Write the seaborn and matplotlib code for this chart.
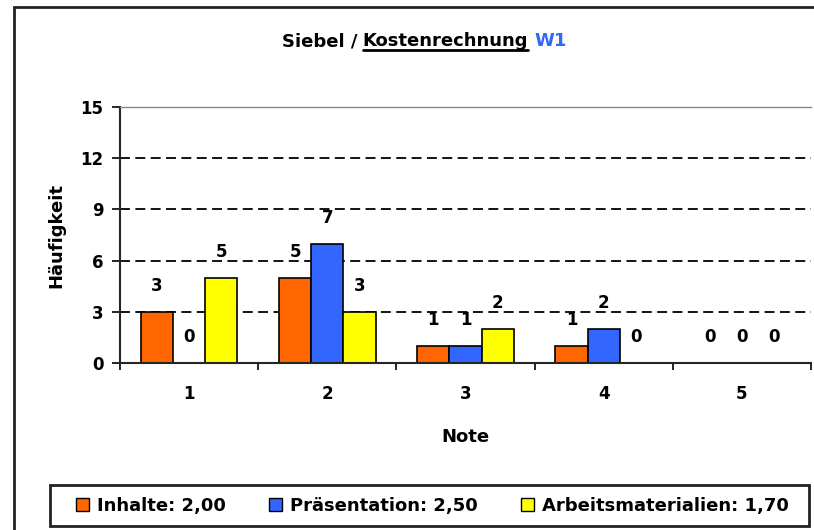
import matplotlib
matplotlib.use("Agg")
import matplotlib.pyplot as plt
import matplotlib.patches as mpatches
from matplotlib.lines import Line2D
import pandas as pd
import seaborn as sns

noten = ["1", "2", "3", "4", "5"]
inhalte = [3, 5, 1, 1, 0]
praesentation = [0, 7, 1, 2, 0]
arbeitsmaterialien = [5, 3, 2, 0, 0]
serien = ["Inhalte: 2,00", "Präsentation: 2,50", "Arbeitsmaterialien: 1,70"]
farben = ["#FF6600", "#3366FF", "#FFFF00"]

df = pd.DataFrame({
    "Note": noten * 3,
    "Anzahl": inhalte + praesentation + arbeitsmaterialien,
    "Serie": [serien[0]] * 5 + [serien[1]] * 5 + [serien[2]] * 5,
})

sns.set_style("white")
plt.rcParams["font.family"] = ["DejaVu Sans"]
plt.rcParams["font.weight"] = "bold"
for k in ["text.color", "axes.labelcolor", "xtick.color", "ytick.color"]:
    plt.rcParams[k] = "black"

W, H = 814, 530
fig = plt.figure(figsize=(W / 100, H / 100), dpi=100)
ax = fig.add_axes([120 / W, 1 - 363 / H, (811 - 120) / W, (363 - 107) / H])

sns.barplot(data=df, x="Note", y="Anzahl", hue="Serie", palette=farben, saturation=1,
            edgecolor="black", linewidth=1.2, width=0.7, ax=ax, legend=False)

for c in ax.containers:
    ax.bar_label(c, padding=12, fontsize=12, fontweight="bold")

ax.set_ylim(0, 15)
ax.set_xlim(-0.5, 4.5)
ax.set_yticks([0, 3, 6, 9, 12, 15])
ax.set_xticks([-0.5, 0.5, 1.5, 2.5, 3.5, 4.5], minor=True)
ax.tick_params(axis="x", which="major", length=0, pad=16, labelsize=12)
ax.tick_params(axis="x", which="minor", length=5, width=1.2, direction="out", bottom=True)
ax.tick_params(axis="y", length=6, width=1.2, direction="out", left=True, labelsize=12, pad=6)
for lab in ax.get_xticklabels() + ax.get_yticklabels():
    lab.set_fontweight("bold")

for v in [3, 6, 9, 12]:
    ax.axhline(v, color="black", lw=1.3, ls=(0, (5.5, 3)), zorder=0)

ax.spines["left"].set_linewidth(1.5)
ax.spines["bottom"].set_linewidth(1.5)
ax.spines["top"].set_color("#888888")
ax.spines["top"].set_linewidth(1)
ax.spines["right"].set_visible(False)

ax.set_xlabel("Note", fontsize=13, fontweight="bold", labelpad=18)
ax.set_ylabel("Häufigkeit", fontsize=13, fontweight="bold", labelpad=11)

# Titel aus drei Teilen
fig.canvas.draw()
r = fig.canvas.get_renderer()
ty = 1 - 46 / H
t1 = fig.text(282 / W, ty, "Siebel /", fontsize=13, fontweight="bold", va="baseline")
bb1 = t1.get_window_extent(r)
t2 = fig.text(bb1.x1 / W + 5 / W, ty, "Kostenrechnung", fontsize=13, fontweight="bold", va="baseline")
bb2 = t2.get_window_extent(r)
t3 = fig.text(bb2.x1 / W + 6 / W, ty, "W1", fontsize=13, fontweight="bold", va="baseline", color="#3366FF")
fig.add_artist(Line2D([bb2.x0 / W, bb2.x1 / W], [1 - 50 / H, 1 - 50 / H], color="black", lw=2))

# Legendenrahmen
fig.add_artist(mpatches.Rectangle((50 / W, 1 - 526 / H), 759 / W, 41 / H, transform=fig.transFigure,
                                  fill=False, edgecolor="#222222", lw=2))
handles = [mpatches.Patch(facecolor=f, edgecolor="black", label=s) for f, s in zip(farben, serien)]
leg = fig.legend(handles=handles, loc="center left", bbox_to_anchor=(76 / W, 1 - 506 / H), ncol=3,
                 frameon=False, fontsize=13, handlelength=0.72, handleheight=0.72,
                 handletextpad=0.44, columnspacing=2.4, borderpad=0, borderaxespad=0)
for t in leg.get_texts():
    t.set_fontweight("bold")

# Außenrahmen
fig.add_artist(mpatches.Rectangle((14 / W, -0.1), 1.2, 1 - 7 / H + 0.1, transform=fig.transFigure,
                                  fill=False, edgecolor="#222222", lw=2))

fig.savefig("out.png", dpi=100)
